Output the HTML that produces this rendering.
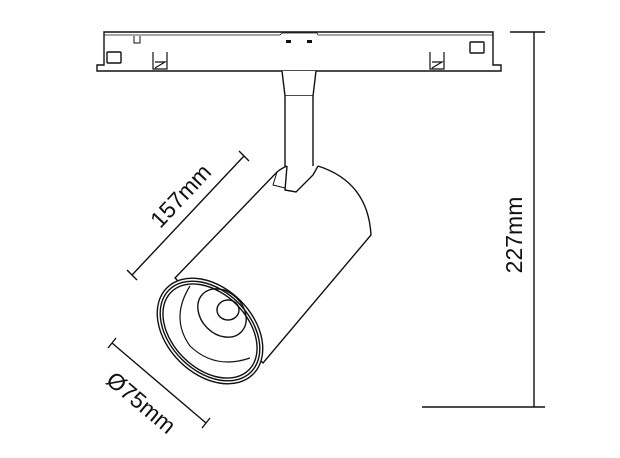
<!DOCTYPE html>
<html><head><style>html,body{margin:0;padding:0;background:#fff}svg{display:block}</style></head>
<body>
<svg width="620" height="458" viewBox="0 0 620 458" xmlns="http://www.w3.org/2000/svg" fill="none" stroke="#111" stroke-width="1.4">
<!-- rail -->
<path d="M104 65 V32 H493 V65 H501 V71 H97 V65 Z" fill="#fff"/>
<line x1="104" y1="35" x2="280" y2="35" stroke-width="0.8"/>
<line x1="318" y1="35" x2="493" y2="35" stroke-width="0.8"/>
<path d="M280 35 L282 33 H317 L318 35" stroke-width="0.8"/>
<path d="M134 36 V43 H140 V36" stroke-width="1"/>
<rect x="286" y="40" width="5" height="3" fill="#111" stroke="none"/>
<rect x="307" y="40" width="5" height="3" fill="#111" stroke="none"/>
<rect x="107" y="52" width="14" height="11" rx="1"/>
<rect x="470" y="42" width="14" height="11" rx="1"/>
<path d="M153 52 V69 H167 V52 M155 62 L165 62 L155 68" stroke-width="1.2"/>
<path d="M430 52 V69 H444 V52 M432 62 L442 62 L432 68" stroke-width="1.2"/>
<!-- stem -->
<path d="M282 71 L285 96 H313 L316 71" fill="#fff"/>
<path d="M285 96 V190 L296 192 L313 175 V96" fill="#fff"/>
<!-- cylinder body -->
<path d="M318 166 Q368 182 371 235 L263 363 L175 278 L277 172 Q282 168 287 166" fill="#fff"/>
<path d="M287 166 L285 190 L296 192 L313 175 L318 166" fill="#fff"/>
<path d="M277 172 L273 185 L285 188" stroke-width="1"/>
<!-- front rings -->
<g transform="translate(210 331) rotate(45)">
<ellipse cx="0" cy="0" rx="61" ry="43" fill="#fff"/>
<ellipse cx="0" cy="0" rx="58" ry="40"/>
<ellipse cx="0" cy="0" rx="55" ry="37.5"/>
</g>
<path d="M190 286 Q170 318 190 346 Q215 370 250 358" stroke-width="1.2"/>
<g transform="translate(222 313) rotate(45)">
<ellipse cx="0" cy="0" rx="27" ry="21"/>
</g>
<ellipse cx="228" cy="310" rx="11" ry="10"/>
<!-- dimension 157 -->
<line x1="132" y1="275" x2="244" y2="156"/>
<line x1="127" y1="270" x2="137" y2="280"/>
<line x1="239" y1="151" x2="249" y2="161"/>
<text x="0" y="0" transform="translate(182 197) rotate(-47)" font-family="Liberation Sans, sans-serif" font-size="23" fill="#111" stroke="none" text-anchor="middle" dominant-baseline="middle">157mm</text>
<!-- dimension 75 -->
<line x1="112" y1="343" x2="206" y2="423"/>
<line x1="116" y1="338" x2="108" y2="348"/>
<line x1="210" y1="418" x2="202" y2="428"/>
<text x="0" y="0" transform="translate(140 404) rotate(40)" font-family="Liberation Sans, sans-serif" font-size="23" fill="#111" stroke="none" text-anchor="middle" dominant-baseline="middle">Ø75mm</text>
<!-- dimension 227 -->
<line x1="534" y1="32" x2="534" y2="407"/>
<line x1="510" y1="32" x2="545" y2="32"/>
<line x1="422" y1="407" x2="545" y2="407"/>
<text x="0" y="0" transform="translate(516 235) rotate(-90)" font-family="Liberation Sans, sans-serif" font-size="23" fill="#111" stroke="none" text-anchor="middle" dominant-baseline="middle">227mm</text>
</svg>
</body></html>
